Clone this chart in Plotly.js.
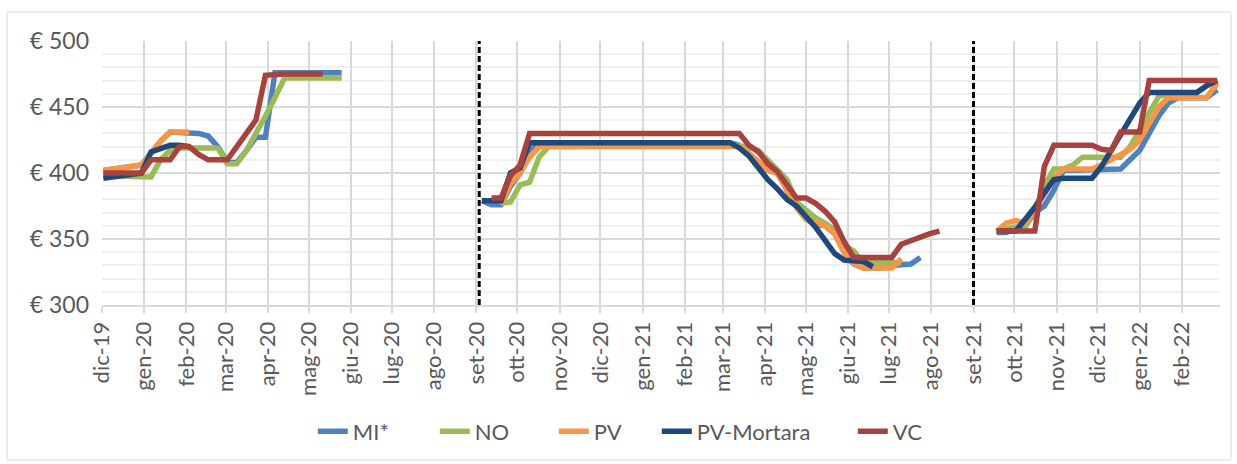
<!DOCTYPE html>
<html>
<head>
<meta charset="utf-8">
<script src="https://cdn.plot.ly/plotly-3.0.1.min.js"></script>
<style>
  html, body { margin: 0; padding: 0; background: #ffffff; }
  #chart { width: 1237px; height: 464px; }
</style>
</head>
<body>
<div id="chart"></div>
<script>
// ---- Data (€/t) ----
const seriesNames = ['MI*', 'NO', 'PV', 'PV-Mortara', 'VC'];
const seriesColors = ['#4f81bd', '#9bbb59', '#f79646', '#1f497d', '#a8423f'];

// Campaign 2019/20
const dates1 = ['2019-12-02','2019-12-30','2020-01-06','2020-01-13','2020-01-20','2020-01-27','2020-02-03','2020-02-10','2020-02-17','2020-02-24','2020-03-02','2020-03-09','2020-03-16','2020-03-23','2020-03-30','2020-04-06','2020-04-13','2020-04-20','2020-04-27','2020-05-04','2020-05-11','2020-05-18','2020-05-25'];
const mi1  = [402,406,415,424,431,431,431,430,428,420,408,408,417,427,427,476,476,476,476,476,476,476,476];
const no1  = [398,397,397,410,417,419,419,419,419,419,407,407,417,429,443,457,472,472,472,472,472,472,472];
const pv1  = [402,406,415,424,431,431,431,null,null,null,null,null,null,null,null,null,null,null,null,null,null,null,null];
const pvm1 = [396,400,416,418,421,421,420,null,null,null,null,null,null,null,null,null,null,null,null,null,null,null,null];
const vc1  = [400,400,410,410,410,420,420,414,410,410,410,420,430,440,474,475,475,475,475,475,475,null,null];

// Campaign 2020/21
const dates2 = ['2020-09-05','2020-09-12','2020-09-19','2020-09-26','2020-10-03','2020-10-10','2020-10-17','2020-10-24','2021-03-06','2021-03-13','2021-03-20','2021-03-27','2021-04-03','2021-04-10','2021-04-17','2021-04-24','2021-05-01','2021-05-08','2021-05-15','2021-05-22','2021-05-29','2021-06-05','2021-06-12','2021-06-19','2021-06-26','2021-07-03','2021-07-10','2021-07-17','2021-07-24','2021-07-31','2021-08-07'];
const mi2  = [379,376,376,390,400,416,423,423,423,421,415,409,402,400,386,374,365,361,360,354,340,331,328,328,328,330,330,331,336,null,null];
const no2  = [null,null,377,378,391,393,412,420,421,421,420,417,410,403,395,378,372,366,362,357,345,341,332,332,332,332,332,null,null,null,null];
const pv2  = [null,null,376,392,400,412,420,420,420,420,415,409,402,400,386,374,365,362,360,354,340,331,328,328,328,328,335,null,null,null,null];
const pvm2 = [379,379,379,400,404,423,423,423,423,419,413,404,395,388,380,375,367,359,349,339,334,333,333,329,null,null,null,null,null,null,null];
const vc2  = [null,381,381,398,406,430,430,430,430,430,421,416,407,401,391,381,381,377,371,363,348,336,336,336,336,336,346,349,352,354,356];

// Campaign 2021/22
const dates3 = ['2021-09-18','2021-09-25','2021-10-02','2021-10-09','2021-10-16','2021-10-23','2021-10-30','2021-11-06','2021-11-13','2021-11-20','2021-11-27','2021-12-04','2021-12-11','2021-12-18','2021-12-25','2022-01-01','2022-01-08','2022-01-15','2022-01-22','2022-01-29','2022-02-05','2022-02-12','2022-02-19','2022-02-27'];
const mi3  = [355,355,358,360,370,375,387,402,402,402,402,402,402,403,410,417,430,443,453,457,457,457,457,463];
const no3  = [356,358,359,359,372,390,403,403,406,412,412,412,412,412,420,433,447,458,460,460,461,461,466,470];
const pv3  = [356,362,364,362,372,385,396,403,403,403,403,406,410,413,418,425,438,450,457,457,457,457,457,468];
const pvm3 = [356,356,356,365,374,385,395,396,396,396,396,405,417,429,441,453,461,461,461,461,461,461,466,470];
const vc3  = [356,356,356,356,356,405,421,421,421,421,421,418,417,431,431,431,470,470,470,470,470,470,470,470];

// Breaks between campaigns and the dashed separators
const gapDates = ['2020-07-15', '2021-08-28'];
const dividerDates = ['2020-09-03', '2021-09-01'];

// Axis ticks
const tickDates = ['2019-12-01','2020-01-01','2020-02-01','2020-03-01','2020-04-01','2020-05-01','2020-06-01','2020-07-01','2020-08-01','2020-09-01','2020-10-01','2020-11-01','2020-12-01','2021-01-01','2021-02-01','2021-03-01','2021-04-01','2021-05-01','2021-06-01','2021-07-01','2021-08-01','2021-09-01','2021-10-01','2021-11-01','2021-12-01','2022-01-01','2022-02-01'];
const tickLabels = ['dic-19','gen-20','feb-20','mar-20','apr-20','mag-20','giu-20','lug-20','ago-20','set-20','ott-20','nov-20','dic-20','gen-21','feb-21','mar-21','apr-21','mag-21','giu-21','lug-21','ago-21','set-21','ott-21','nov-21','dic-21','gen-22','feb-22'];
const yTicks = [300, 350, 400, 450, 500];
const yTickLabels = ['€ 300','€ 350','€ 400','€ 450','€ 500'];

// legend entry widths (px)
const legendWidths = [77, 74, 58, 151, 40];

// ---- Build traces ----
const allDates = dates1.concat([gapDates[0]], dates2, [gapDates[1]], dates3);
const seg = [
  [mi1, mi2, mi3],
  [no1, no2, no3],
  [pv1, pv2, pv3],
  [pvm1, pvm2, pvm3],
  [vc1, vc2, vc3]
];
const traces = seriesNames.map((name, i) => ({
  type: 'scatter',
  mode: 'lines',
  name: name,
  x: allDates,
  y: seg[i][0].concat([null], seg[i][1], [null], seg[i][2]),
  connectgaps: false,
  line: { color: seriesColors[i], width: 5.5 },
  legendwidth: legendWidths[i],
  hoverinfo: 'skip'
}));

const FONT = 'Lato, "Open Sans", sans-serif';
const TXT = '#595959';

const shapes = dividerDates.map(d => ({
  type: 'line', xref: 'x', yref: 'paper',
  x0: d, x1: d, y0: 0, y1: 1,
  line: { color: '#000000', width: 3, dash: '6px,3px' },
  layer: 'above'
}));
// chart-area border
shapes.push({
  type: 'rect', xref: 'paper', yref: 'paper',
  x0: -0.085, x1: 1.0098, y0: -0.587, y1: 1.1098,
  line: { color: '#d9d9d9', width: 1 }, fillcolor: 'rgba(0,0,0,0)', layer: 'below'
});

const layout = {
  width: 1237, height: 464,
  margin: { l: 102, r: 17, t: 41, b: 159 },
  paper_bgcolor: '#ffffff', plot_bgcolor: '#ffffff',
  font: { family: FONT, color: TXT, size: 22 },
  showlegend: true,
  legend: {
    orientation: 'h', xref: 'container', yref: 'container',
    x: 0.5055, xanchor: 'center', y: 0.07, yanchor: 'middle',
    font: { family: FONT, size: 22, color: TXT },
    traceorder: 'normal', bgcolor: 'rgba(0,0,0,0)'
  },
  xaxis: {
    type: 'date',
    range: ['2019-12-01', '2022-03-01'],
    tickmode: 'array', tickvals: tickDates, ticktext: tickLabels,
    tickangle: -90,
    tickfont: { family: FONT, size: 22, color: TXT },
    ticks: 'outside', ticklen: 6, tickwidth: 2, tickcolor: '#d9d9d9',
    showgrid: true, gridcolor: '#d9d9d9', gridwidth: 2,
    showline: true, linecolor: '#d9d9d9', linewidth: 2,
    zeroline: false, fixedrange: true
  },
  yaxis: {
    range: [300, 500],
    tickmode: 'array', tickvals: yTicks, ticktext: yTickLabels,
    tickfont: { family: FONT, size: 23, color: TXT },
    ticks: '', showline: false, zeroline: false,
    showgrid: true, gridcolor: '#d9d9d9', gridwidth: 2,
    minor: { dtick: 10, showgrid: true, gridcolor: '#f0f0f0', gridwidth: 2 },
    ticklabelstandoff: 12,
    fixedrange: true
  },
  shapes: shapes,
  hovermode: false
};

Plotly.newPlot('chart', traces, layout, { displayModeBar: false, staticPlot: true });
</script>
</body>
</html>
